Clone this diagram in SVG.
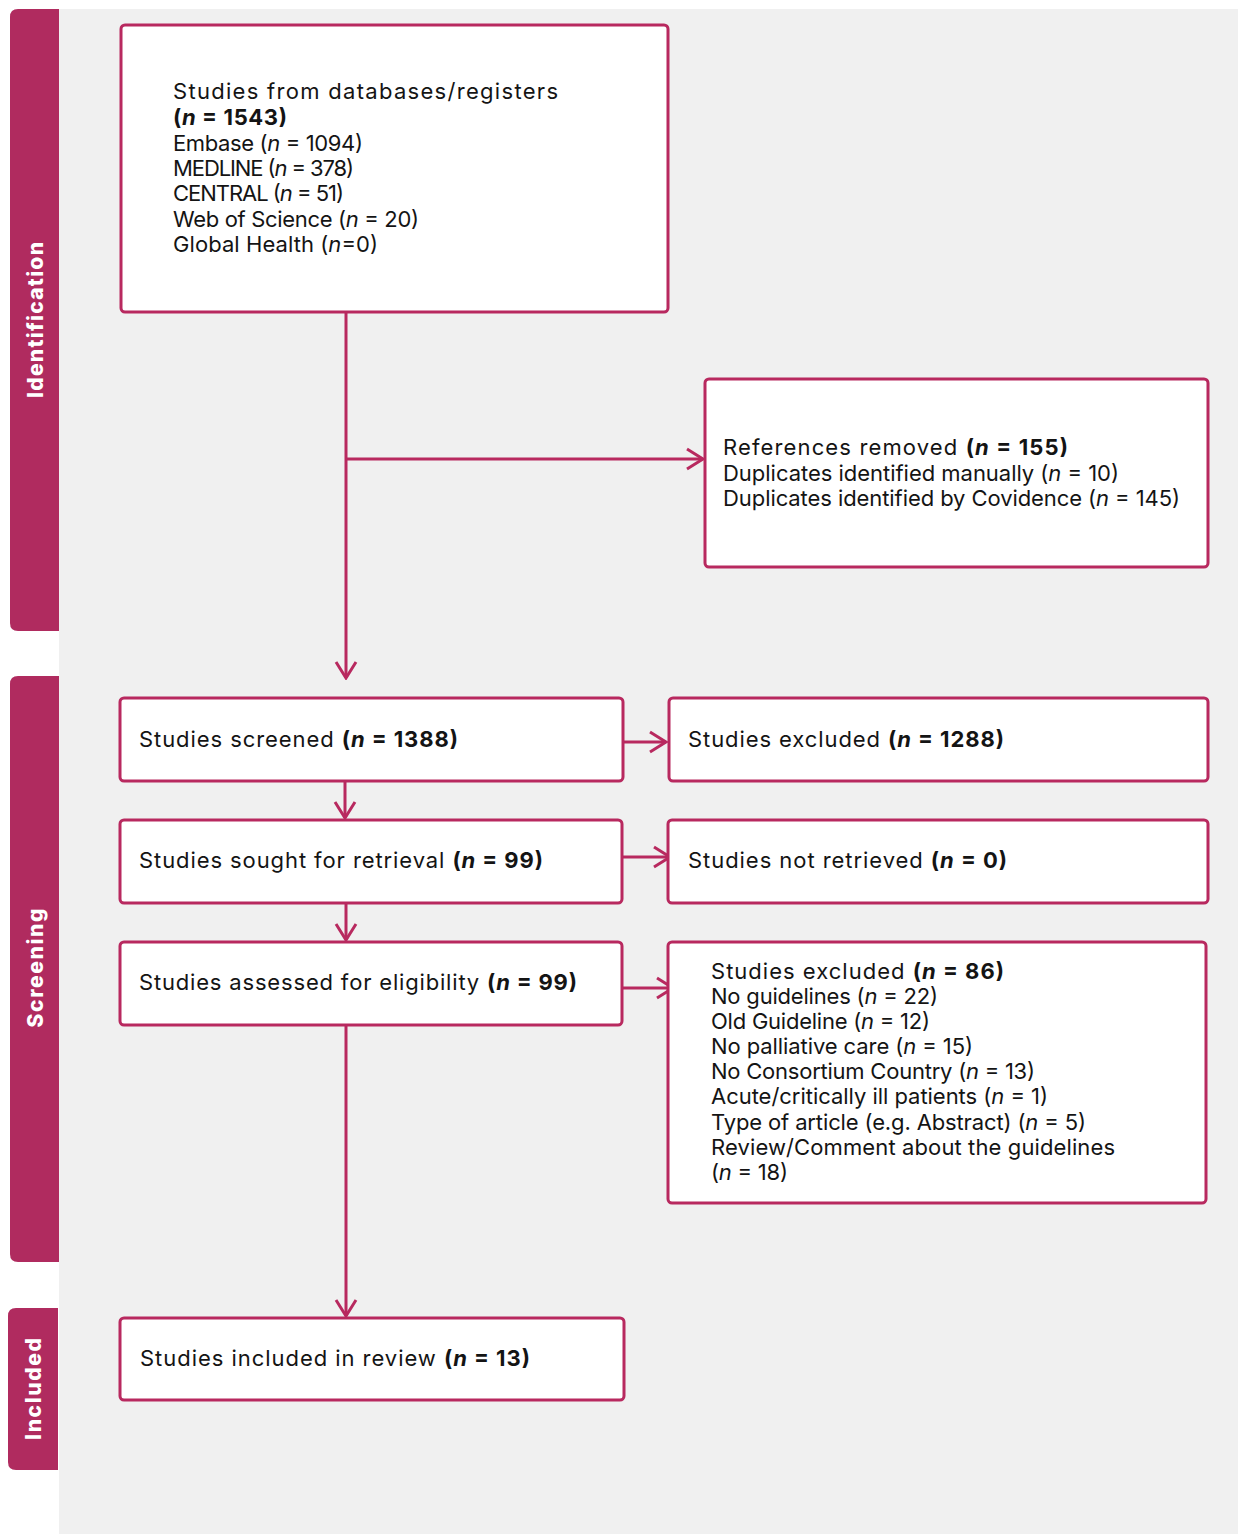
<svg xmlns="http://www.w3.org/2000/svg" width="1238" height="1534" viewBox="0 0 1238 1534">
<defs>
<style>
.bg{fill:#f0f0f0}
.side{fill:#b02b5f}
.sidet{fill:#ffffff;font-family:Inter,"Open Sans",sans-serif;font-weight:800;font-size:21px;text-anchor:middle;dominant-baseline:central}
.box{fill:#ffffff;stroke:#b8295f;stroke-width:3}
.t{fill:#141414;font-family:Inter,"Open Sans",sans-serif;font-size:22px}
.b{font-weight:bold}
.i{font-style:italic}
.c{fill:none;stroke:#b8295f;stroke-width:3}
</style>
<marker id="ah" viewBox="0 0 20 24" refX="18" refY="12" markerWidth="20" markerHeight="24" markerUnits="userSpaceOnUse" orient="auto">
<path d="M2,2 L18,12 L2,22" fill="none" stroke="#b8295f" stroke-width="3"/>
</marker>
</defs>
<rect x="0" y="0" width="1238" height="1534" fill="#ffffff"/>
<rect class="bg" x="59" y="9" width="1179" height="1525"/>

<g id="phase-identification">
<path class="side" d="M59,9 H18 Q10,9 10,17 V623 Q10,631 18,631 H59 Z"/>
<text class="sidet" transform="translate(35 320) rotate(-90)" textLength="156">Identification</text>
</g>
<g id="phase-screening">
<path class="side" d="M59,676 H18 Q10,676 10,684 V1254 Q10,1262 18,1262 H59 Z"/>
<text class="sidet" transform="translate(35 968) rotate(-90)" textLength="119">Screening</text>
</g>
<g id="phase-included">
<path class="side" d="M58,1308 H16 Q8,1308 8,1316 V1462 Q8,1470 16,1470 H58 Z"/>
<text class="sidet" transform="translate(33 1389) rotate(-90)" textLength="102">Included</text>
</g>

<g id="connectors">
<line class="c" x1="346" y1="312" x2="346" y2="678" marker-end="url(#ah)"/>
<line class="c" x1="346" y1="459" x2="703" y2="459" marker-end="url(#ah)"/>
<line class="c" x1="345" y1="781" x2="345" y2="818" marker-end="url(#ah)"/>
<line class="c" x1="346" y1="903" x2="346" y2="940" marker-end="url(#ah)"/>
<line class="c" x1="346" y1="1025" x2="346" y2="1316" marker-end="url(#ah)"/>
<line class="c" x1="623" y1="742" x2="666" y2="742" marker-end="url(#ah)"/>
<line class="c" x1="623" y1="857" x2="670" y2="857" marker-end="url(#ah)"/>
<line class="c" x1="623" y1="988" x2="673" y2="988" marker-end="url(#ah)"/>
</g>

<g id="node-databases">
<rect class="box" x="121" y="25" width="547" height="287" rx="4"/>
<text class="t" x="173" y="99" textLength="385">Studies from databases/registers</text>
<text class="t b" x="173" y="125" textLength="114">(<tspan class="i">n</tspan> = 1543)</text>
<text class="t" x="173" y="151" textLength="190">Embase (<tspan class="i">n</tspan> = 1094)</text>
<text class="t" x="173" y="176" textLength="181">MEDLINE (<tspan class="i">n</tspan> = 378)</text>
<text class="t" x="173" y="201" textLength="171">CENTRAL (<tspan class="i">n</tspan> = 51)</text>
<text class="t" x="173" y="227" textLength="246">Web of Science (<tspan class="i">n</tspan> = 20)</text>
<text class="t" x="173" y="252" textLength="205">Global Health (<tspan class="i">n</tspan>=0)</text>
</g>

<g id="node-removed">
<rect class="box" x="705" y="379" width="503" height="188" rx="4"/>
<text class="t" x="723" y="455" textLength="345">References removed <tspan class="b">(<tspan class="i">n</tspan> = 155)</tspan></text>
<text class="t" x="723" y="481" textLength="396">Duplicates identified manually (<tspan class="i">n</tspan> = 10)</text>
<text class="t" x="723" y="506" textLength="457">Duplicates identified by Covidence (<tspan class="i">n</tspan> = 145)</text>
</g>

<g id="node-screened">
<rect class="box" x="120" y="698" width="503" height="83" rx="4"/>
<text class="t" x="139" y="747" textLength="319">Studies screened <tspan class="b">(<tspan class="i">n</tspan> = 1388)</tspan></text>
</g>
<g id="node-excluded1">
<rect class="box" x="669" y="698" width="539" height="83" rx="4"/>
<text class="t" x="688" y="747" textLength="316">Studies excluded <tspan class="b">(<tspan class="i">n</tspan> = 1288)</tspan></text>
</g>
<g id="node-sought">
<rect class="box" x="120" y="820" width="502" height="83" rx="4"/>
<text class="t" x="139" y="868" textLength="404">Studies sought for retrieval <tspan class="b">(<tspan class="i">n</tspan> = 99)</tspan></text>
</g>
<g id="node-notretrieved">
<rect class="box" x="668" y="820" width="540" height="83" rx="4"/>
<text class="t" x="688" y="868" textLength="319">Studies not retrieved <tspan class="b">(<tspan class="i">n</tspan> = 0)</tspan></text>
</g>
<g id="node-assessed">
<rect class="box" x="120" y="942" width="502" height="83" rx="4"/>
<text class="t" x="139" y="990" textLength="438">Studies assessed for eligibility <tspan class="b">(<tspan class="i">n</tspan> = 99)</tspan></text>
</g>
<g id="node-excluded2">
<rect class="box" x="668" y="942" width="538" height="261" rx="4"/>
<text class="t" x="711" y="979" textLength="293">Studies excluded <tspan class="b">(<tspan class="i">n</tspan> = 86)</tspan></text>
<text class="t" x="711" y="1004" textLength="227">No guidelines (<tspan class="i">n</tspan> = 22)</text>
<text class="t" x="711" y="1029" textLength="219">Old Guideline (<tspan class="i">n</tspan> = 12)</text>
<text class="t" x="711" y="1054" textLength="262">No palliative care (<tspan class="i">n</tspan> = 15)</text>
<text class="t" x="711" y="1079" textLength="324">No Consortium Country (<tspan class="i">n</tspan> = 13)</text>
<text class="t" x="711" y="1104" textLength="337">Acute/critically ill patients (<tspan class="i">n</tspan> = 1)</text>
<text class="t" x="711" y="1130" textLength="375">Type of article (e.g. Abstract) (<tspan class="i">n</tspan> = 5)</text>
<text class="t" x="711" y="1155" textLength="404">Review/Comment about the guidelines</text>
<text class="t" x="711" y="1180" textLength="77">(<tspan class="i">n</tspan> = 18)</text>
</g>
<g id="node-included">
<rect class="box" x="120" y="1318" width="504" height="82" rx="4"/>
<text class="t" x="140" y="1366" textLength="390">Studies included in review <tspan class="b">(<tspan class="i">n</tspan> = 13)</tspan></text>
</g>
</svg>
